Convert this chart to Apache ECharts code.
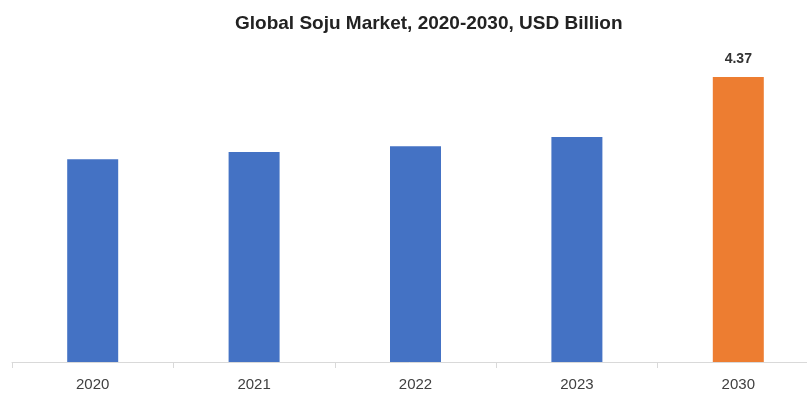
<!DOCTYPE html>
<html>
<head>
<meta charset="utf-8">
<script src="https://cdn.jsdelivr.net/npm/echarts@6/dist/echarts.min.js"></script>
<style>
  html, body { margin: 0; padding: 0; background: #fff; }
  #chart { width: 807px; height: 396px; }
</style>
</head>
<body>
<div id="chart"></div>
<script>
// Global Soju Market, USD Billion
const years = ['2020', '2021', '2022', '2023', '2030'];
const values = [3.11, 3.22, 3.31, 3.45, 4.37];
const barColors = ['#4472C4', '#4472C4', '#4472C4', '#4472C4', '#ED7D31'];

function createChart(elementId, option) {
    const chartDom = document.getElementById(elementId);
    if (!chartDom) return;
    const myChart = echarts.init(chartDom);
    myChart.setOption(option);
    window.addEventListener('resize', () => myChart.resize());
}

const option = {
    animation: false,
    title: {
        text: 'Global Soju Market, 2020-2030, USD Billion',
        left: 230,
        top: 9,
        textStyle: { fontFamily: 'Liberation Sans', fontSize: 19, fontWeight: 'bold', color: '#222' }
    },
    grid: { left: 12, width: 807, top: 36, bottom: 34, outerBoundsMode: 'none', containLabel: false },
    xAxis: {
        type: 'category',
        data: years,
        axisLine: { lineStyle: { color: '#d9d9d9', width: 1 } },
        axisTick: { show: true, length: 6, lineStyle: { color: '#d9d9d9' } },
        axisLabel: { color: '#404040', fontFamily: 'Liberation Sans', fontSize: 15, margin: 15 }
    },
    yAxis: {
        type: 'value',
        min: 0,
        max: 5,
        show: false,
        splitLine: { show: false }
    },
    series: [{
        type: 'bar',
        barWidth: 51,
        data: values.map((v, i) => ({
            value: v,
            itemStyle: { color: barColors[i] },
            label: {
                show: i === values.length - 1,
                position: 'top',
                distance: 11,
                formatter: '{c}',
                color: '#333',
                fontFamily: 'Liberation Sans',
                fontSize: 14,
                fontWeight: 'bold'
            }
        }))
    }]
};

createChart('chart', option);
</script>
</body>
</html>
